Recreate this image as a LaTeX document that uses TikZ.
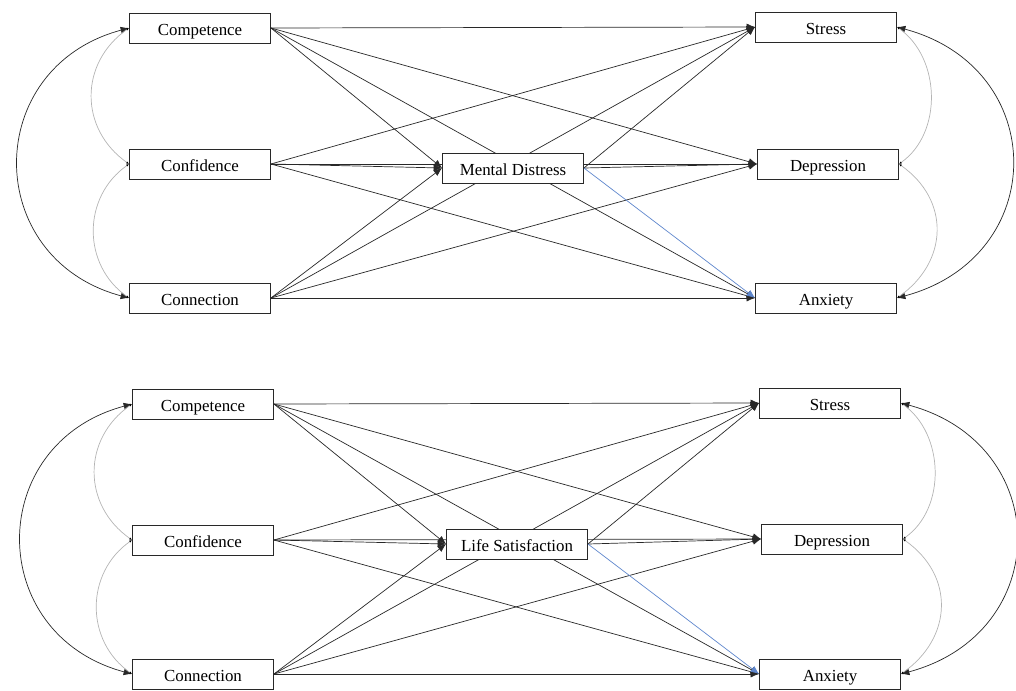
\documentclass[tikz,border=0pt]{standalone}
\usepackage{fontspec}
\setmainfont{Liberation Serif}
\usetikzlibrary{arrows.meta}
\definecolor{regK}{RGB}{40,40,40}
\definecolor{regBl}{RGB}{95,135,205}
\definecolor{covG}{RGB}{180,180,180}
\pgfdeclarelayer{bg}
\pgfsetlayers{bg,main}
\tikzset{
  var/.style={draw=regK, fill=white, line width=0.6pt, minimum width=3.525cm,
    minimum height=0.75cm, inner sep=0pt, text height=10.5pt, text depth=0pt,
    font=\fontsize{12}{14}\selectfont},
  reg/.style={regK, line width=0.5pt, -{Latex[length=6pt,width=5pt]}},
  cov/.style={regK, line width=0.5pt, {Latex[length=6pt,width=5pt]}-{Latex[length=6pt,width=5pt]}},
  covlt/.style={covG, line width=0.5pt,
    {Latex[length=2pt,width=1.6pt,color=black]}-{Latex[length=2pt,width=1.6pt,color=black]}}
}
\begin{document}
\begin{tikzpicture}[x=0.025cm, y=0.025cm]
\useasboundingbox (0,0) rectangle (1016,-690);
% panel A: mental distress in the middle
\node[var] (comA) at (200,-28) {Competence};
\node[var] (confA) at (200,-164) {Confidence};
\node[var] (connA) at (200,-298) {Connection};
\node[var] (stressA) at (826,-27) {Stress};
\node[var] (depA) at (828,-164) {Depression};
\node[var] (anxA) at (826,-298) {Anxiety};
\node[var] (medA) at (513,-168) {Mental Distress};
% panel B: life satisfaction in the middle
\node[var] (comB) at (203,-404) {Competence};
\node[var] (confB) at (203,-540) {Confidence};
\node[var] (connB) at (203,-674) {Connection};
\node[var] (stressB) at (830,-403) {Stress};
\node[var] (depB) at (832,-539) {Depression};
\node[var] (anxB) at (830,-674) {Anxiety};
\node[var] (medB) at (517,-544) {Life Satisfaction};
% paths, behind the boxes
\begin{pgfonlayer}{bg}
\foreach \p in {A,B} {
  \foreach \s in {com,conf,conn} {
    \draw[reg] (\s\p.east) -- (med\p.west);
    \foreach \t in {stress,dep,anx}
      \draw[reg] (\s\p.east) -- (\t\p.west);
  }
  \draw[reg] (med\p.east) -- (stress\p.west);
  \draw[reg] (med\p.east) -- (dep\p.west);
  \draw[reg, regBl] (med\p.east) -- (anx\p.west);
  % covariances, left
  \draw[cov] (com\p.west) to[out=195, in=165, looseness=1.45] (conn\p.west);
  \draw[covlt] (com\p.west) to[out=215, in=145, looseness=1.15] (conf\p.west);
  \draw[covlt] (conf\p.west) to[out=215, in=145, looseness=1.1] (conn\p.west);
  % covariances, right
  \draw[cov] (stress\p.east) to[out=-15, in=15, looseness=1.5] (anx\p.east);
  \draw[covlt] (stress\p.east) to[out=-35, in=35, looseness=1.0] (dep\p.east);
  \draw[covlt] (dep\p.east) to[out=-35, in=35, looseness=1.2] (anx\p.east);
}
\end{pgfonlayer}
\end{tikzpicture}
\end{document}
